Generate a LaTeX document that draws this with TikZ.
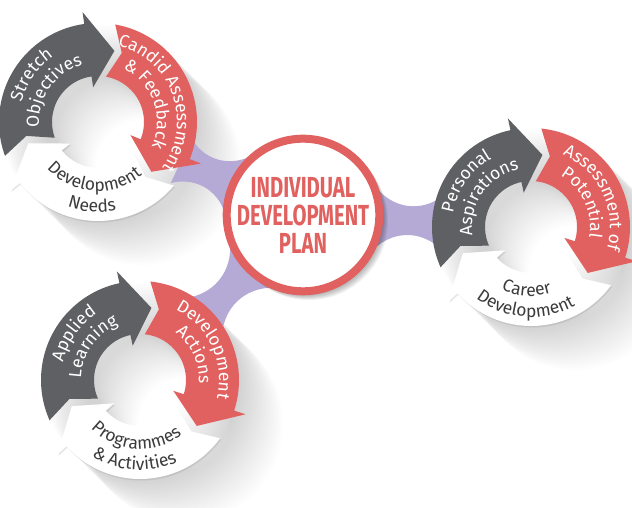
\documentclass[tikz,border=0pt]{standalone}
\usepackage{fontspec}
\setmainfont{Fira Sans}
\newfontfamily\idpfont[FakeStretch=0.7]{Fira Sans}
\newcommand\ringfont{\fontsize{17.5}{17.5}\selectfont}
\usetikzlibrary{decorations.text,shadows,backgrounds}

\tikzset{
  ringlight/.style={decorate, decoration={text along path, text align=center, text color=white, text={|\ringfont|#1}}},
  ringdark/.style={decorate, decoration={text along path, text align=center, text color=txtgray, text={|\ringfont|#1}}},
  whitearrow/.style={fill=white, drop shadow={shadow xshift=1pt, shadow yshift=-1.5pt, opacity=0.2}},
  link/.style={fill=slilac},
}

\begin{document}
\begin{tikzpicture}[x=1pt, y=1pt]
	\definecolor{sred}{HTML}{E0615F}
	\definecolor{sgray}{HTML}{5F6064}
	\definecolor{slilac}{HTML}{B5AAD5}
	\definecolor{txtgray}{HTML}{3C3C3E}
	\useasboundingbox (0,0) rectangle (632,508);
	\coordinate (growth) at (98,386);
	\coordinate (career) at (531,281);
	\coordinate (learning) at (140,128);
	\node[circle, draw=sred, line width=8pt, fill=white, minimum size=150pt, inner sep=0, text=sred, align=center,
		font=\idpfont\bfseries\fontsize{29}{28}\selectfont] (idp) at (303,293) {INDIVIDUAL\\DEVELOPMENT\\PLAN};

	\begin{pgfonlayer}{background}
		% long soft shadows of the three rings
		\foreach \k in {1,...,22} {
			\fill[black, opacity=0.007, even odd rule] ([shift={(2*\k,-2*\k)}]growth) circle[radius=99] circle[radius=46];
			\fill[black, opacity=0.007, even odd rule] ([shift={(2*\k,-2*\k)}]career) circle[radius=99] circle[radius=46];
			\fill[black, opacity=0.007, even odd rule] ([shift={(2*\k,-2*\k)}]learning) circle[radius=99] circle[radius=46];
		}
		% links from the plan to each ring
		\fill[link] (idp.175) to[bend right=40] ([shift={(320:95)}]growth) -- ([shift={(350:95)}]growth) to[bend right=40] (idp.135) -- cycle;
		\fill[link] (idp.17) to[bend right=40] ([shift={(162:95)}]career) -- ([shift={(192:95)}]career) to[bend right=40] (idp.337) -- cycle;
		\fill[link] (idp.245) to[bend right=40] ([shift={(30:95)}]learning) -- ([shift={(60:95)}]learning) to[bend right=40] (idp.205) -- cycle;
		% shadow under the plan
		\foreach \k in {1,...,6}
			\fill[black, opacity=0.06] ([shift={(\k,-\k)}]idp.center) circle[radius=79];
	\end{pgfonlayer}

	% ring 1
	\begin{scope}[shift={(growth)}]
		\fill[sgray] (200:99) arc[start angle=200, end angle=98, radius=99] -- (98:111) -- (77:73) -- (98:35) -- (98:46) arc[start angle=98, end angle=200, radius=46] -- (191:73) -- cycle;
		\fill[sred] (80:99) arc[start angle=80, end angle=-22, radius=99] -- (-22:111) -- (-43:73) -- (-22:35) -- (-22:46) arc[start angle=-22, end angle=80, radius=46] -- (71:73) -- cycle;
		\fill[whitearrow] (320:99) arc[start angle=320, end angle=218, radius=99] -- (218:111) -- (197:73) -- (218:35) -- (218:46) arc[start angle=218, end angle=320, radius=46] -- (311:73) -- cycle;
		\path[ringlight={Stretch}] (225:79) arc[start angle=225, end angle=65, radius=79];
		\path[ringlight={Objectives}] (225:59) arc[start angle=225, end angle=65, radius=59];
		\path[ringlight={Candid Assessment}] (105:79) arc[start angle=105, end angle=-65, radius=79];
		\path[ringlight={{\&} Feedback}] (105:59) arc[start angle=105, end angle=-65, radius=59];
		\path[ringdark={Development}] (186:69) arc[start angle=186, end angle=346, radius=69];
		\path[ringdark={Needs}] (186:90) arc[start angle=186, end angle=346, radius=90];
	\end{scope}

	% ring 2
	\begin{scope}[shift={(career)}]
		\fill[sgray] (204:99) arc[start angle=204, end angle=102, radius=99] -- (102:111) -- (81:73) -- (102:35) -- (102:46) arc[start angle=102, end angle=204, radius=46] -- (195:73) -- cycle;
		\fill[sred] (84:99) arc[start angle=84, end angle=-18, radius=99] -- (-18:111) -- (-39:73) -- (-18:35) -- (-18:46) arc[start angle=-18, end angle=84, radius=46] -- (75:73) -- cycle;
		\fill[whitearrow] (324:99) arc[start angle=324, end angle=222, radius=99] -- (222:111) -- (201:73) -- (222:35) -- (222:46) arc[start angle=222, end angle=324, radius=46] -- (315:73) -- cycle;
		\path[ringlight={Personal}] (225:79) arc[start angle=225, end angle=65, radius=79];
		\path[ringlight={Aspirations}] (225:59) arc[start angle=225, end angle=65, radius=59];
		\path[ringlight={Assessment of}] (110:79) arc[start angle=110, end angle=-60, radius=79];
		\path[ringlight={Potential}] (110:59) arc[start angle=110, end angle=-60, radius=59];
		\path[ringdark={Career}] (186:69) arc[start angle=186, end angle=346, radius=69];
		\path[ringdark={Development}] (186:90) arc[start angle=186, end angle=346, radius=90];
	\end{scope}

	% ring 3
	\begin{scope}[shift={(learning)}]
		\fill[sgray] (204:99) arc[start angle=204, end angle=102, radius=99] -- (102:111) -- (81:73) -- (102:35) -- (102:46) arc[start angle=102, end angle=204, radius=46] -- (195:73) -- cycle;
		\fill[sred] (84:99) arc[start angle=84, end angle=-18, radius=99] -- (-18:111) -- (-39:73) -- (-18:35) -- (-18:46) arc[start angle=-18, end angle=84, radius=46] -- (75:73) -- cycle;
		\fill[whitearrow] (324:99) arc[start angle=324, end angle=222, radius=99] -- (222:111) -- (201:73) -- (222:35) -- (222:46) arc[start angle=222, end angle=324, radius=46] -- (315:73) -- cycle;
		\path[ringlight={Applied}] (225:79) arc[start angle=225, end angle=65, radius=79];
		\path[ringlight={Learning}] (225:59) arc[start angle=225, end angle=65, radius=59];
		\path[ringlight={Development}] (110:79) arc[start angle=110, end angle=-60, radius=79];
		\path[ringlight={Actions}] (110:59) arc[start angle=110, end angle=-60, radius=59];
		\path[ringdark={Programmes}] (186:69) arc[start angle=186, end angle=346, radius=69];
		\path[ringdark={{\&} Activities}] (186:90) arc[start angle=186, end angle=346, radius=90];
	\end{scope}
\end{tikzpicture}
\end{document}
